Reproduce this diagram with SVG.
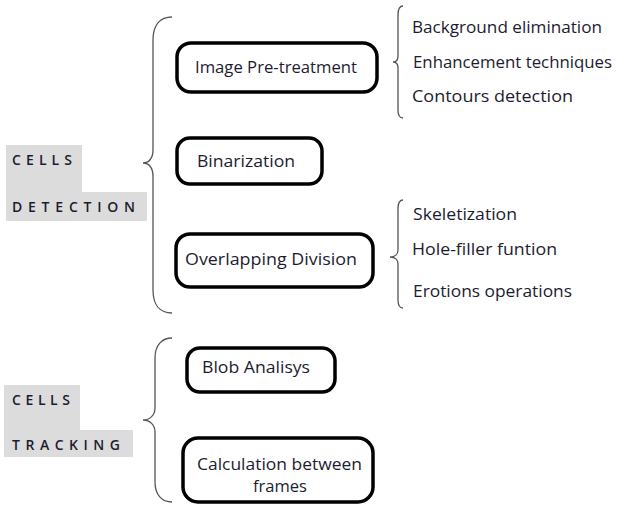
<svg xmlns="http://www.w3.org/2000/svg" width="617" height="509" viewBox="0 0 617 509">
<style>
.bg{fill:#ffffff}
.lab{fill:#dcdcdc}
.box{fill:#ffffff;stroke:#000000;stroke-width:3.5}
.brace{fill:none;stroke:#555555;stroke-width:1.3}
text{font-family:"Open Sans","Noto Sans","Liberation Sans",sans-serif;font-size:16.5px;fill:#1c1c30}
.cap{font-size:14px;font-weight:600}
</style>
<rect class="bg" x="0" y="0" width="617" height="509"/>
<g id="label-detection">
<polygon class="lab" points="6,145 82,145 82,192 147,192 147,221 6,221"/>
<text class="cap" x="12" y="165" textLength="60" lengthAdjust="spacing">CELLS</text>
<text class="cap" x="12" y="212" textLength="123" lengthAdjust="spacing">DETECTION</text>
</g>
<g id="label-tracking">
<polygon class="lab" points="4,385 80,385 80,430 133,430 133,457 4,457"/>
<text class="cap" x="12" y="405" textLength="58" lengthAdjust="spacing">CELLS</text>
<text class="cap" x="12" y="450" textLength="108" lengthAdjust="spacing">TRACKING</text>
</g>
<g id="connectors">
<path class="brace" d="M172,17 C160,17 153,25 153,40 L153,150 C153,158 149,163 143,163 C149,163 153,168 153,176 L153,290 C153,305 160,313 172,313"/>
<path class="brace" d="M172,338 C162,338 155,345 155,358 L155,408 C155,415 150,420 143,420 C150,420 155,425 155,432 L155,482 C155,495 162,502 172,502"/>
<path class="brace" d="M403,6 C400,6 398,9 398,15 L398,56 C398,60 396,62 393,62 C396,62 398,64 398,68 L398,110 C398,115 400,118 403,118"/>
<path class="brace" d="M403,200 C400,200 398,203 398,209 L398,250 C398,254 395,257 390,257 C395,257 398,260 398,264 L398,300 C398,305 400,308 403,308"/>
</g>
<g id="node-pretreatment">
<rect class="box" x="177" y="43" width="200" height="49" rx="14"/>
<text x="195" y="73" textLength="162" lengthAdjust="spacingAndGlyphs">Image Pre-treatment</text>
</g>
<g id="node-binarization">
<rect class="box" x="177" y="138" width="145" height="46" rx="13"/>
<text x="197" y="167" textLength="98" lengthAdjust="spacingAndGlyphs">Binarization</text>
</g>
<g id="node-overlapping">
<rect class="box" x="176" y="234" width="197" height="53" rx="14"/>
<text x="185" y="265" textLength="172" lengthAdjust="spacingAndGlyphs">Overlapping Division</text>
</g>
<g id="node-blob">
<rect class="box" x="187" y="348" width="148" height="44" rx="13"/>
<text x="202" y="373" textLength="108" lengthAdjust="spacingAndGlyphs">Blob Analisys</text>
</g>
<g id="node-calculation">
<rect class="box" x="183" y="438" width="190" height="64" rx="15"/>
<text x="197" y="470" textLength="165" lengthAdjust="spacingAndGlyphs">Calculation between</text>
<text x="253" y="492" textLength="54" lengthAdjust="spacingAndGlyphs">frames</text>
</g>
<g id="node-background">
<text x="412" y="33" textLength="190" lengthAdjust="spacingAndGlyphs">Background elimination</text>
</g>
<g id="node-enhancement">
<text x="413" y="68" textLength="199" lengthAdjust="spacingAndGlyphs">Enhancement techniques</text>
</g>
<g id="node-contours">
<text x="412" y="102" textLength="161" lengthAdjust="spacingAndGlyphs">Contours detection</text>
</g>
<g id="node-skeletization">
<text x="413" y="220" textLength="104" lengthAdjust="spacingAndGlyphs">Skeletization</text>
</g>
<g id="node-holefiller">
<text x="412" y="255" textLength="145" lengthAdjust="spacingAndGlyphs">Hole-filler funtion</text>
</g>
<g id="node-erotions">
<text x="413" y="297" textLength="159" lengthAdjust="spacingAndGlyphs">Erotions operations</text>
</g>
</svg>
